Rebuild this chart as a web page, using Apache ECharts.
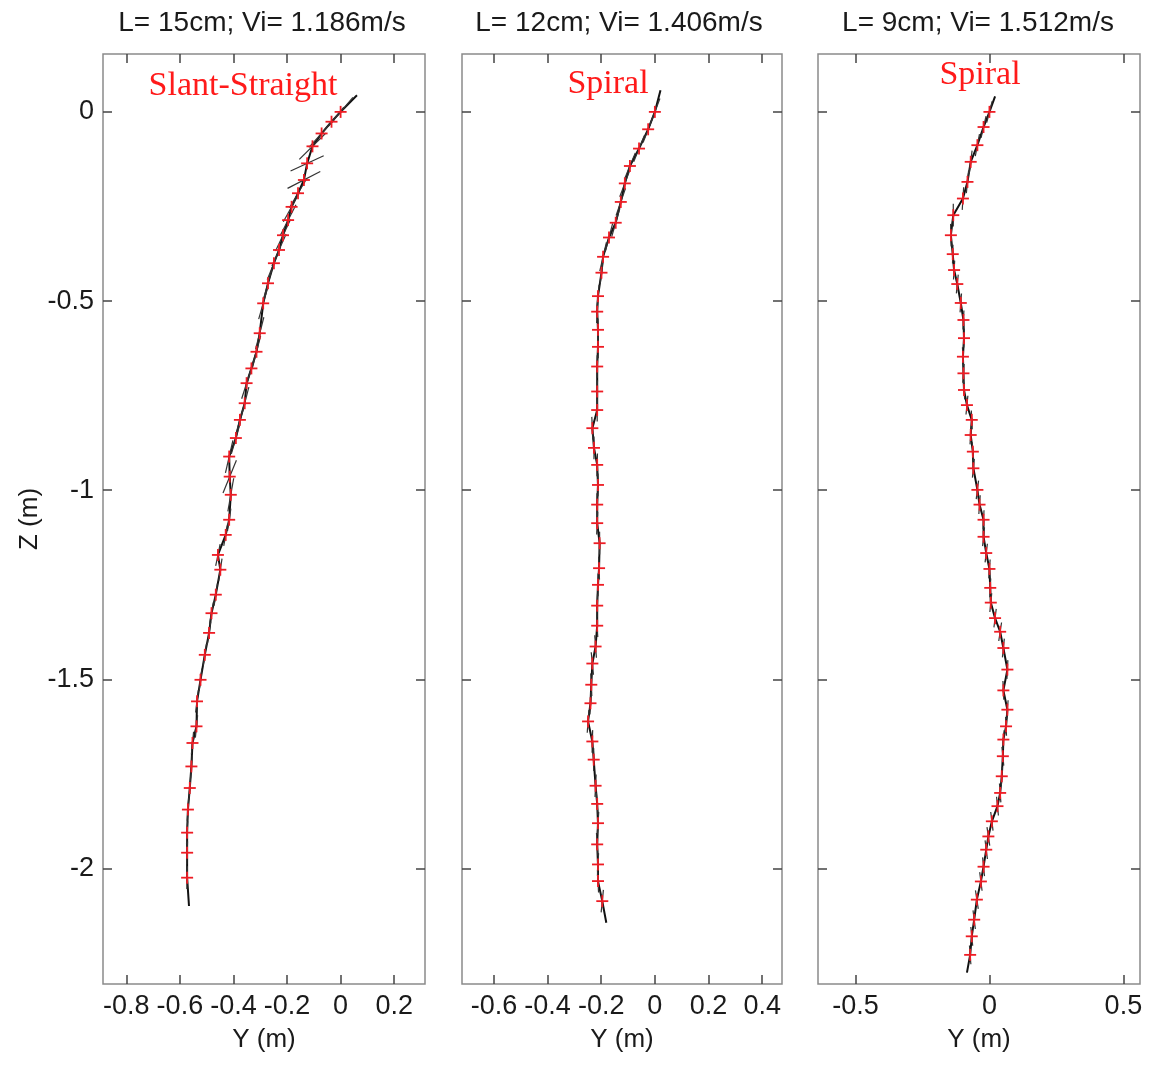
<!DOCTYPE html>
<html>
<head>
<meta charset="utf-8">
<script src="https://cdn.jsdelivr.net/npm/echarts@6/dist/echarts.min.js"></script>
<style>
html,body{margin:0;padding:0;background:#fff;}
#chart{width:1151px;height:1065px;}
</style>
</head>
<body>
<div id="chart"></div>
<script>
// ---------- Panel titles / labels ----------
const TITLES = ['L= 15cm; Vi= 1.186m/s', 'L= 12cm; Vi= 1.406m/s', 'L= 9cm; Vi= 1.512m/s'];
const MODES = ['Slant-Straight', 'Spiral', 'Spiral'];

// ---------- Axis ticks ----------
const Z_TICKS = [-2, -1.5, -1, -0.5, 0];
const P1_XTICKS = [-0.8, -0.6, -0.4, -0.2, 0, 0.2];
const P2_XTICKS = [-0.6, -0.4, -0.2, 0, 0.2, 0.4];
const P3_XTICKS = [-0.5, 0, 0.5];
const Z_RANGE = [-2.305, 0.153];
const P1_XRANGE = [-0.887, 0.315];
const P2_XRANGE = [-0.719, 0.474];
const P3_XRANGE = [-0.64, 0.562];

// ---------- Panel 1 (L = 15 cm) ----------
const P1_Y = [0.0,-0.034,-0.071,-0.105,-0.125,-0.137,-0.159,-0.183,-0.196,-0.215,-0.23,-0.249,-0.271,-0.289,-0.302,-0.314,-0.333,-0.351,-0.358,-0.376,-0.391,-0.416,-0.414,-0.41,-0.416,-0.429,-0.458,-0.449,-0.466,-0.482,-0.491,-0.507,-0.523,-0.536,-0.538,-0.553,-0.557,-0.563,-0.57,-0.573,-0.573,-0.573];
const P1_Z = [0.0,-0.026,-0.057,-0.091,-0.136,-0.18,-0.215,-0.251,-0.286,-0.326,-0.365,-0.40,-0.453,-0.506,-0.585,-0.634,-0.678,-0.717,-0.77,-0.814,-0.862,-0.911,-0.964,-1.012,-1.078,-1.118,-1.171,-1.21,-1.276,-1.325,-1.377,-1.435,-1.501,-1.558,-1.624,-1.668,-1.73,-1.787,-1.844,-1.905,-1.958,-2.024];
const P1_TILT = [50,50,52,55,72,70,40,38,36,34,32,30,22,22,20,20,22,24,20,22,22,18,30,14,12,14,16,12,12,14,12,12,10,10,8,8,6,6,5,4,3,2];
const P1_LEN = [0.12,0.12,0.12,0.12,0.13,0.13,0.1,0.1,0.1,0.1,0.1,0.1,0.09,0.09,0.09,0.09,0.09,0.09,0.09,0.09,0.09,0.09,0.1,0.09,0.06,0.06,0.06,0.06,0.06,0.06,0.06,0.06,0.06,0.06,0.06,0.06,0.06,0.06,0.06,0.06,0.06,0.06];
const P1_START = [0.061, 0.044];
const P1_END = [-0.566, -2.099];

// ---------- Panel 2 (L = 12 cm) ----------
const P2_Y = [0.0,-0.025,-0.059,-0.093,-0.112,-0.127,-0.146,-0.171,-0.193,-0.199,-0.212,-0.215,-0.212,-0.212,-0.215,-0.215,-0.215,-0.233,-0.227,-0.215,-0.212,-0.215,-0.215,-0.206,-0.208,-0.212,-0.215,-0.215,-0.221,-0.233,-0.237,-0.24,-0.249,-0.233,-0.228,-0.221,-0.215,-0.212,-0.215,-0.212,-0.212,-0.196];
const P2_Z = [0.0,-0.046,-0.097,-0.143,-0.189,-0.238,-0.293,-0.332,-0.383,-0.425,-0.487,-0.528,-0.576,-0.621,-0.673,-0.739,-0.788,-0.836,-0.888,-0.933,-0.986,-1.038,-1.087,-1.14,-1.206,-1.25,-1.305,-1.358,-1.413,-1.458,-1.514,-1.563,-1.611,-1.664,-1.712,-1.781,-1.829,-1.88,-1.936,-1.989,-2.033,-2.086];
const P2_TILT = [28,28,30,30,28,26,22,20,18,10,8,4,0,-2,0,2,0,-4,0,2,0,-2,4,0,-3,0,2,-4,-6,-8,-4,4,6,2,0,4,-6,5,-5,4,-4,8];
const P2_LEN = [0.08,0.08,0.08,0.08,0.08,0.08,0.08,0.08,0.08,0.06,0.06,0.06,0.06,0.06,0.06,0.06,0.06,0.06,0.06,0.06,0.06,0.06,0.06,0.06,0.06,0.06,0.06,0.06,0.06,0.06,0.06,0.06,0.06,0.06,0.06,0.06,0.06,0.06,0.06,0.06,0.06,0.06];
const P2_START = [0.021, 0.057];
const P2_END = [-0.181, -2.143];

// ---------- Panel 3 (L = 9 cm) ----------
const P3_Y = [0.0,-0.022,-0.045,-0.07,-0.082,-0.099,-0.135,-0.144,-0.137,-0.132,-0.12,-0.107,-0.097,-0.095,-0.099,-0.097,-0.095,-0.084,-0.066,-0.07,-0.062,-0.06,-0.045,-0.037,-0.022,-0.022,-0.012,0.0,0.003,0.005,0.021,0.04,0.052,0.067,0.052,0.067,0.062,0.052,0.05,0.046,0.04,0.03,0.009,-0.004,-0.012,-0.022,-0.032,-0.047,-0.057,-0.066,-0.072];
const P3_Z = [0.0,-0.04,-0.088,-0.132,-0.185,-0.229,-0.273,-0.326,-0.376,-0.418,-0.455,-0.505,-0.55,-0.598,-0.647,-0.691,-0.735,-0.775,-0.814,-0.854,-0.898,-0.942,-0.999,-1.038,-1.078,-1.123,-1.166,-1.208,-1.258,-1.297,-1.338,-1.374,-1.417,-1.474,-1.529,-1.58,-1.624,-1.659,-1.703,-1.756,-1.8,-1.835,-1.875,-1.915,-1.95,-1.995,-2.034,-2.082,-2.135,-2.179,-2.228];
const P3_TILT = [20,18,15,10,8,5,0,-2,2,5,8,6,4,2,-4,6,-6,8,-4,6,-6,8,10,6,4,8,10,6,4,8,10,12,8,4,-4,6,-4,6,-8,4,-6,-8,-10,-12,-10,-8,-10,-12,-10,-8,-6];
const P3_LEN = [0.06,0.06,0.06,0.06,0.06,0.06,0.06,0.06,0.05,0.05,0.05,0.05,0.05,0.05,0.05,0.05,0.05,0.05,0.05,0.05,0.05,0.05,0.05,0.05,0.05,0.05,0.05,0.05,0.05,0.05,0.05,0.05,0.05,0.05,0.05,0.05,0.05,0.05,0.05,0.05,0.05,0.05,0.05,0.05,0.05,0.05,0.05,0.05,0.05,0.05,0.05];
const P3_START = [0.021, 0.041];
const P3_END = [-0.084, -2.275];

// ---------- Layout (pixels) ----------
const LAYOUT = [
  {left: 103, width: 322, titleX: 262, modeX: 243, modeY: 86},
  {left: 462, width: 320, titleX: 619, modeX: 608, modeY: 84},
  {left: 818, width: 322, titleX: 978, modeX: 980, modeY: 75}
];
const GRID_TOP = 54, GRID_H = 930;

const PANELS = [
  {Y: P1_Y, Z: P1_Z, tilt: P1_TILT, len: P1_LEN, start: P1_START, end: P1_END, xr: P1_XRANGE, xt: P1_XTICKS},
  {Y: P2_Y, Z: P2_Z, tilt: P2_TILT, len: P2_LEN, start: P2_START, end: P2_END, xr: P2_XRANGE, xt: P2_XTICKS},
  {Y: P3_Y, Z: P3_Z, tilt: P3_TILT, len: P3_LEN, start: P3_START, end: P3_END, xr: P3_XRANGE, xt: P3_XTICKS}
];

const FONT = 'Liberation Sans, Arial, sans-serif';
const TEXT_COLOR = '#1a1a1a';
const TICK_STYLE = {show: true, inside: true, length: 9, lineStyle: {color: '#444', width: 1.5}};
const NO_LINE = {show: false, onZero: false};
const fmt = v => String(+(+v).toFixed(2));

const grids = [], xAxes = [], yAxes = [], series = [], graphics = [];

PANELS.forEach((p, i) => {
  const L = LAYOUT[i];
  grids.push({left: L.left, top: GRID_TOP, width: L.width, height: GRID_H,
    show: true, borderColor: '#8a8a8a', borderWidth: 1.5, backgroundColor: 'transparent'});
  // bottom x axis
  xAxes.push({type: 'value', gridIndex: i, position: 'bottom', min: p.xr[0], max: p.xr[1],
    name: 'Y (m)', nameLocation: 'middle', nameGap: 43,
    nameTextStyle: {fontFamily: FONT, fontSize: 26, color: TEXT_COLOR},
    axisLine: NO_LINE, splitLine: {show: false},
    axisTick: Object.assign({customValues: p.xt}, TICK_STYLE),
    axisLabel: {customValues: p.xt, formatter: fmt, fontFamily: FONT, fontSize: 27, color: TEXT_COLOR, margin: 9}
  });
  // top x axis (ticks only)
  xAxes.push({type: 'value', gridIndex: i, position: 'top', min: p.xr[0], max: p.xr[1],
    axisLine: NO_LINE, splitLine: {show: false}, axisLabel: {show: false},
    axisTick: Object.assign({customValues: p.xt}, TICK_STYLE)
  });
  // left y axis
  yAxes.push({type: 'value', gridIndex: i, position: 'left', min: Z_RANGE[0], max: Z_RANGE[1],
    name: i === 0 ? 'Z (m)' : '', nameLocation: 'middle', nameGap: 60,
    nameTextStyle: {fontFamily: FONT, fontSize: 26, color: TEXT_COLOR},
    axisLine: NO_LINE, splitLine: {show: false},
    axisTick: Object.assign({customValues: Z_TICKS}, TICK_STYLE),
    axisLabel: {show: i === 0, customValues: Z_TICKS, formatter: fmt, fontFamily: FONT, fontSize: 27, color: TEXT_COLOR, margin: 9}
  });
  // right y axis (ticks only)
  yAxes.push({type: 'value', gridIndex: i, position: 'right', min: Z_RANGE[0], max: Z_RANGE[1],
    axisLine: NO_LINE, splitLine: {show: false}, axisLabel: {show: false},
    axisTick: Object.assign({customValues: Z_TICKS}, TICK_STYLE)
  });

  const pts = p.Y.map((y, k) => [y, p.Z[k]]);
  const segData = p.Y.map((y, k) => [y, p.Z[k], p.tilt[k], p.len[k]]);

  // trajectory line
  series.push({type: 'line', xAxisIndex: 2 * i, yAxisIndex: 2 * i,
    data: [p.start].concat(pts, [p.end]), showSymbol: false, symbol: 'none',
    lineStyle: {color: '#111', width: 2}, z: 2, animation: false, silent: true});

  // body orientation segments
  series.push({type: 'custom', xAxisIndex: 2 * i, yAxisIndex: 2 * i, data: segData,
    encode: {x: 0, y: 1}, z: 3, animation: false, silent: true,
    renderItem: function (params, api) {
      const y = api.value(0), z = api.value(1);
      const th = api.value(2) * Math.PI / 180, h = api.value(3) / 2;
      const dy = Math.sin(th) * h, dz = Math.cos(th) * h;
      const a = api.coord([y + dy, z + dz]), b = api.coord([y - dy, z - dz]);
      return {type: 'line', shape: {x1: a[0], y1: a[1], x2: b[0], y2: b[1]},
        style: {stroke: '#333', lineWidth: 1.2}};
    }
  });

  // red plus markers
  series.push({type: 'custom', xAxisIndex: 2 * i, yAxisIndex: 2 * i, data: pts,
    encode: {x: 0, y: 1}, z: 4, animation: false, silent: true,
    renderItem: function (params, api) {
      const c = api.coord([api.value(0), api.value(1)]);
      const r = 6;
      return {type: 'group', children: [
        {type: 'line', shape: {x1: c[0] - r, y1: c[1], x2: c[0] + r, y2: c[1]}, style: {stroke: '#ee1c24', lineWidth: 1.8}},
        {type: 'line', shape: {x1: c[0], y1: c[1] - r, x2: c[0], y2: c[1] + r}, style: {stroke: '#ee1c24', lineWidth: 1.8}}
      ]};
    }
  });

  graphics.push({type: 'text', x: L.titleX, y: 23,
    style: {text: TITLES[i], fontFamily: FONT, fontSize: 28, fill: TEXT_COLOR, textAlign: 'center', textVerticalAlign: 'middle'}});
  graphics.push({type: 'text', x: L.modeX, y: L.modeY,
    style: {text: MODES[i], fontFamily: 'Liberation Serif, Times New Roman, serif', fontSize: 34, fill: '#ff1a1a', textAlign: 'center', textVerticalAlign: 'middle'}});
});

const chart = echarts.init(document.getElementById('chart'), null, {renderer: 'canvas'});
chart.setOption({
  animation: false,
  backgroundColor: '#ffffff',
  grid: grids,
  xAxis: xAxes,
  yAxis: yAxes,
  series: series,
  graphic: graphics
});
</script>
</body>
</html>
